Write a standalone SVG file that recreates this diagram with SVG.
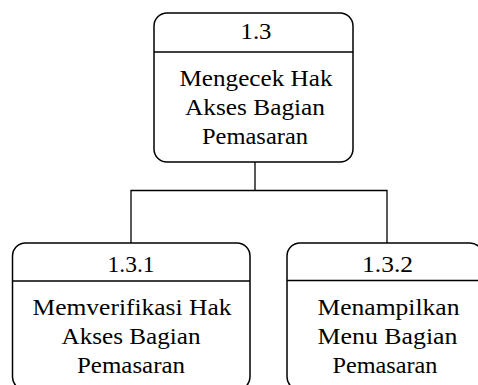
<svg xmlns="http://www.w3.org/2000/svg" width="478" height="385" viewBox="0 0 478 385">
<style>
.box{fill:#fff;stroke:#000;stroke-width:1.5}
.div{stroke:#000;stroke-width:1.5}
.conn{fill:none;stroke:#000;stroke-width:1.3}
text{font-family:"Liberation Serif","Times New Roman",serif;font-size:23.5px;fill:#000;text-anchor:middle}
</style>
<rect width="478" height="385" fill="#fff"/>
<g id="connectors">
<path class="conn" d="M255 162 V190.5 M131 243 V190.5 H387 V243"/>
</g>
<g id="node-1.3">
<rect class="box" x="154" y="13" width="199" height="149" rx="13"/>
<line class="div" x1="154" y1="52" x2="353" y2="52"/>
<text x="256" y="39" textLength="31" lengthAdjust="spacingAndGlyphs">1.3</text>
<text x="256" y="86" textLength="153" lengthAdjust="spacingAndGlyphs">Mengecek Hak</text>
<text x="255" y="115" textLength="140" lengthAdjust="spacingAndGlyphs">Akses Bagian</text>
<text x="255" y="144" textLength="106" lengthAdjust="spacingAndGlyphs">Pemasaran</text>
</g>
<g id="node-1.3.1">
<rect class="box" x="12.5" y="243" width="237.5" height="147" rx="13"/>
<line class="div" x1="12.5" y1="281" x2="250" y2="281"/>
<text x="131" y="272" textLength="47" lengthAdjust="spacingAndGlyphs">1.3.1</text>
<text x="132" y="315" textLength="199" lengthAdjust="spacingAndGlyphs">Memverifikasi Hak</text>
<text x="131" y="344" textLength="139" lengthAdjust="spacingAndGlyphs">Akses Bagian</text>
<text x="131" y="373" textLength="108" lengthAdjust="spacingAndGlyphs">Pemasaran</text>
</g>
<g id="node-1.3.2">
<rect class="box" x="287" y="243" width="196" height="147" rx="13"/>
<line class="div" x1="287" y1="280.5" x2="483" y2="280.5"/>
<text x="387.5" y="272" textLength="51" lengthAdjust="spacingAndGlyphs">1.3.2</text>
<text x="388.5" y="315" textLength="142" lengthAdjust="spacingAndGlyphs">Menampilkan</text>
<text x="387.5" y="344" textLength="140" lengthAdjust="spacingAndGlyphs">Menu Bagian</text>
<text x="385" y="373" textLength="105" lengthAdjust="spacingAndGlyphs">Pemasaran</text>
</g>
</svg>
